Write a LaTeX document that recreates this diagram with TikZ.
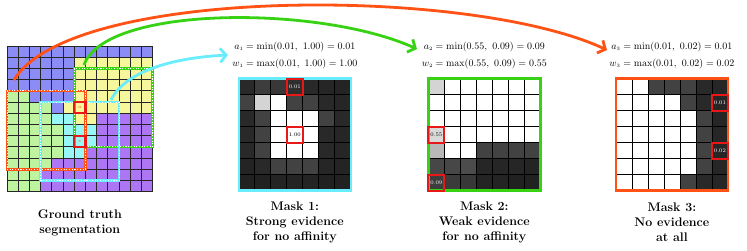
\documentclass[tikz,border=0pt]{standalone}
\usetikzlibrary{arrows.meta}
\definecolor{gB}{RGB}{140,140,246}
\definecolor{gY}{RGB}{246,246,156}
\definecolor{gG}{RGB}{190,244,160}
\definecolor{gC}{RGB}{152,246,246}
\definecolor{gP}{RGB}{172,118,244}
\definecolor{cOr}{RGB}{255,82,20}
\definecolor{cGr}{RGB}{55,210,20}
\definecolor{cCy}{RGB}{105,236,252}
\definecolor{cRd}{RGB}{232,24,24}
\tikzset{
  gtline/.style={draw=black!85, line width=1bp},
  mline/.style={draw=black, line width=0.8bp},
  winbase/.style={line width=2.6bp},
  windots/.style={draw=white, line width=1bp, dash pattern=on 1.1bp off 1.6bp},
  hlbox/.style={draw=cRd, line width=2.2bp, minimum size=11.2bp, inner sep=0pt},
  mhl/.style={draw=cRd, line width=2bp, minimum size=16bp, inner sep=0pt},
  vallab/.style={font=\fontsize{5.5}{6}\selectfont},
  eqn/.style={font=\fontsize{10.3}{12}\selectfont, inner sep=0pt},
  captxt/.style={align=center, font=\fontsize{12.5}{15}\selectfont\bfseries, inner sep=0pt},
  arcline/.style={line width=2.8bp, -{Straight Barb[length=6bp,width=14bp]}},
  uvlab/.style={font=\fontsize{4.5}{5}\selectfont, text=cOr},
}
\newcommand\drawmask[4]{%
  \foreach \row [count=\r from 0] in {#4} {
    \foreach \v [count=\k from 0] in \row {
      \fill[black!\v] ({#1+\k*16},{#2+\r*16}) rectangle ++(16,16);
    }
  }
  \foreach \i in {1,...,6} {
    \draw[mline] ({#1+\i*16},#2) -- ++(0,112);
    \draw[mline] (#1,{#2+\i*16}) -- ++(112,0);
  }
  \draw[#3, line width=2.6bp] (#1,#2) rectangle ++(112,112);
}
\newcommand\dotwin[3]{%
  \draw[winbase,#1] #2 rectangle #3;
  \draw[windots] #2 rectangle #3;
}
\begin{document}
\begin{tikzpicture}[x=1bp,y=-1bp]
\useasboundingbox (0,0) rectangle (747,250);
% ground truth cells
\foreach \row [count=\r from 0] in {
  {B,B,B,B,B,B,B,B,B,B,B,B,B},
  {B,B,B,B,B,B,Y,Y,Y,Y,Y,Y,Y},
  {B,B,B,B,B,B,Y,Y,Y,Y,Y,Y,Y},
  {B,B,B,B,B,B,Y,Y,Y,Y,Y,Y,Y},
  {G,G,B,B,B,B,Y,Y,Y,Y,Y,Y,Y},
  {G,G,G,G,B,Y,Y,Y,Y,Y,Y,Y,Y},
  {G,G,G,G,C,C,Y,Y,P,P,P,P,P},
  {G,G,G,G,G,C,C,C,P,P,P,P,P},
  {G,G,G,G,G,C,C,C,P,P,P,P,P},
  {G,G,G,G,G,C,C,P,P,P,P,P,P},
  {G,G,G,G,P,P,P,P,P,P,P,P,P},
  {G,G,G,P,P,P,P,P,P,P,P,P,P},
  {G,G,G,P,P,P,P,P,P,P,P,P,P}} {
  \foreach \c [count=\k from 0] in \row {
    \fill[fill=g\c] ({7+\k*11.2},{46+\r*11.2}) rectangle ++(11.2,11.2);
  }
}
\foreach \i in {0,...,13} {
  \draw[gtline] ({7+\i*11.2},46) -- ({7+\i*11.2},191.6);
  \draw[gtline] (7,{46+\i*11.2}) -- (152.6,{46+\i*11.2});
}
% windows
\dotwin{cOr}{(7,90.8)}{(85.4,169.2)}
\dotwin{cGr}{(74.2,68.4)}{(152.6,146.8)}
\dotwin{cCy}{(40.6,102)}{(119,180.4)}
% highlighted pixels
\node[hlbox] (u) at (79.8,107.6) {};
\node[uvlab] at (u) {$u$};
\node[hlbox] (v) at (79.8,141.2) {};
\node[uvlab] at (v) {$v$};
% masks
\drawmask{238.8}{78.6}{cCy}{
  {84,76,78,82,84,85,86},
  {74,17,0,74,74,84,85},
  {84,74,0,0,0,74,84},
  {84,74,0,0,0,84,85},
  {84,74,0,0,0,84,85},
  {86,84,74,74,74,85,86},
  {87,87,86,86,86,87,87}}
\drawmask{428.3}{78.6}{cGr}{
  {17,0,0,0,0,0,0},
  {0,0,0,0,0,0,0},
  {0,0,0,0,0,0,0},
  {15,0,0,0,0,0,0},
  {28,0,0,74,74,74,74},
  {72,72,70,85,85,85,86},
  {76,77,78,86,86,87,87}}
\drawmask{615.9}{78.6}{cOr}{
  {0,0,74,74,74,84,85},
  {0,0,0,0,74,84,85},
  {0,0,0,0,0,74,85},
  {0,0,0,0,0,74,85},
  {0,0,0,0,0,74,85},
  {0,0,0,0,0,74,85},
  {0,0,0,0,74,84,85}}
% mask value boxes
\node[mhl,vallab,text=white] (m1a) at (294.8,86.6) {0.01};
\node[mhl,vallab,text=black] (m1b) at (294.8,134.6) {1.00};
\node[mhl,vallab,text=black] (m2a) at (436.3,134.6) {0.55};
\node[mhl,vallab,text=white] (m2b) at (436.3,182.6) {0.09};
\node[mhl,vallab,text=white] (m3a) at (719.9,102.6) {0.01};
\node[mhl,vallab,text=white] (m3b) at (719.9,150.6) {0.02};
% equations
\node[eqn] (e1a) at (294.8,47) {$a_{\scriptscriptstyle 1} = \min(0.01,\ 1.00) = 0.01$};
\node[eqn] (e1b) at (294.8,64) {$w_{\scriptscriptstyle 1} = \max(0.01,\ 1.00) = 1.00$};
\node[eqn] (e2a) at (484.3,47) {$a_{\scriptscriptstyle 2} = \min(0.55,\ 0.09) = 0.09$};
\node[eqn] (e2b) at (484.3,64) {$w_{\scriptscriptstyle 2} = \max(0.55,\ 0.09) = 0.55$};
\node[eqn] (e3a) at (671.9,47) {$a_{\scriptscriptstyle 3} = \min(0.01,\ 0.02) = 0.01$};
\node[eqn] (e3b) at (671.9,64) {$w_{\scriptscriptstyle 3} = \max(0.01,\ 0.02) = 0.02$};
% captions
\node[captxt] (c0) at (79.8,222.5) {Ground truth\\segmentation};
\node[captxt] (c1) at (294.8,222.5) {Mask 1:\\Strong evidence\\for no affinity};
\node[captxt] (c2) at (484.3,222.5) {Mask 2:\\Weak evidence\\for no affinity};
\node[captxt] (c3) at (671.9,222.5) {Mask 3:\\No evidence\\at all};
% arcs
\coordinate (s1) at (111,100);
\coordinate (t1) at (228,55);
\coordinate (s2) at (84,65);
\coordinate (t2) at (417,49);
\coordinate (s3) at (14,80);
\coordinate (t3) at (607,50);
\draw[arcline,cOr] (s3) .. controls (70,-14) and (470,-14) .. (t3);
\draw[arcline,cGr] (s2) .. controls (105,5) and (320,5) .. (t2);
\draw[arcline,cCy] (s1) .. controls (125,72) and (170,58) .. (t1);
\end{tikzpicture}
\end{document}
